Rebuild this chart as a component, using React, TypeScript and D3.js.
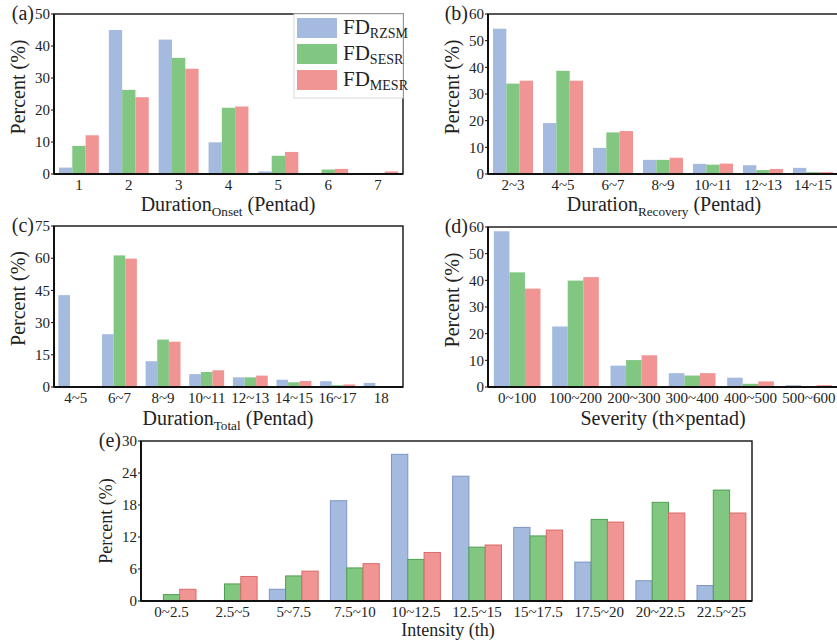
import React from 'react';
import * as d3 from 'd3';

const seriesNames = ['RZSM', 'SESR', 'MESR'];
const fillColors = ['#a5badf', '#81c782', '#f19594'];
const edgeColors = ['#7d96c4', '#4f9f53', '#d96b6b'];

const onsetCats = ['1', '2', '3', '4', '5', '6', '7'];
const onsetRZSM = [2.0, 45.0, 42.0, 9.9, 0.8, 0, 0.2];
const onsetSESR = [8.8, 26.3, 36.3, 20.7, 5.7, 1.4, 0.3];
const onsetMESR = [12.1, 24.0, 32.9, 21.1, 6.9, 1.6, 0.8];

const recoveryCats = ['2~3', '4~5', '6~7', '8~9', '10~11', '12~13', '14~15'];
const recoveryRZSM = [54.5, 19.1, 9.8, 5.3, 3.8, 3.3, 2.3];
const recoverySESR = [33.9, 38.7, 15.6, 5.3, 3.5, 1.5, 0.7];
const recoveryMESR = [35.0, 35.0, 16.1, 6.1, 3.9, 1.9, 0.7];

const totalCats = ['4~5', '6~7', '8~9', '10~11', '12~13', '14~15', '16~17', '18'];
const totalRZSM = [42.8, 24.6, 12.0, 6.0, 4.5, 3.4, 2.7, 1.9];
const totalSESR = [0, 61.3, 22.1, 7.0, 4.5, 2.2, 0.8, 0.3];
const totalMESR = [0, 59.8, 21.1, 7.8, 5.3, 2.8, 1.2, 0.3];

const severityCats = ['0~100', '100~200', '200~300', '300~400', '400~500', '500~600'];
const severityRZSM = [58.4, 22.7, 8.0, 5.2, 3.5, 0.7];
const severitySESR = [43.0, 39.9, 10.1, 4.3, 1.2, 0];
const severityMESR = [36.9, 41.2, 11.9, 5.2, 2.1, 0.7];

const intensityCats = ['0~2.5', '2.5~5', '5~7.5', '7.5~10', '10~12.5', '12.5~15', '15~17.5', '17.5~20', '20~22.5', '22.5~25'];
const intensityRZSM = [0, 0, 2.2, 18.8, 27.5, 23.4, 13.8, 7.3, 3.8, 2.9];
const intensitySESR = [1.2, 3.2, 4.7, 6.2, 7.8, 10.1, 12.2, 15.3, 18.5, 20.8];
const intensityMESR = [2.2, 4.6, 5.6, 7.0, 9.1, 10.5, 13.3, 14.8, 16.5, 16.5];

const FONT = "'Liberation Serif', 'DejaVu Serif', serif";
const TXT = '#222';

type PanelProps = {
    x: number; y: number; w: number; h: number;
    cats: string[];
    series: number[][];
    yMax: number; yStep: number;
    tag: string;
    xTitle: React.ReactNode; xTitleX: number; xTitleY: number;
    yTitleShift?: number;
    titleSize?: number;
    tickGap?: number;
    outline?: boolean;
};

const Panel = ({ x, y, w, h, cats, series, yMax, yStep, tag, xTitle, xTitleX, xTitleY, yTitleShift = 0, titleSize = 20, tickGap = 16, outline = false }: PanelProps) => {
    const getX = d3.scaleBand().domain(cats).range([0, w]).paddingInner(0.2).paddingOuter(0.1);
    const getSub = d3.scaleBand().domain(seriesNames).range([0, getX.bandwidth()]);
    const getY = d3.scaleLinear().domain([0, yMax]).range([h, 0]);
    const yTicks = d3.range(0, yMax + 0.001, yStep);

    return (
        <g transform={`translate(${x},${y})`}>
            {series.map((vals, si) => (
                <g key={si}>
                    {vals.map((v, i) => (
                        v > 0 ? <rect key={i}
                            x={getX(cats[i])! + getSub(seriesNames[si])!}
                            y={getY(v)}
                            width={getSub.bandwidth()}
                            height={h - getY(v)}
                            fill={fillColors[si]}
                            stroke={outline ? edgeColors[si] : 'none'}
                            strokeWidth={outline ? 1 : 0} /> : null
                    ))}
                </g>
            ))}
            <rect x={0} y={0} width={w} height={h} fill="none" stroke="#111" strokeWidth={1.4} />
            <line x1={0} x2={0} y1={0} y2={h} stroke="#111" strokeWidth={2} />
            <line x1={0} x2={w} y1={h} y2={h} stroke="#111" strokeWidth={2} />
            {yTicks.map((t) => (
                <g key={t}>
                    <line x1={-3} x2={0} y1={getY(t)} y2={getY(t)} stroke="#111" strokeWidth={1} />
                    <text x={-4} y={getY(t)} dy="0.35em" textAnchor="end" fontSize={15} fill={TXT}>{t}</text>
                </g>
            ))}
            {cats.map((c) => (
                <text key={c} x={getX(c)! + getX.bandwidth() / 2} y={h + tickGap} textAnchor="middle" fontSize={15} fill={TXT}>{c}</text>
            ))}
            <text
                transform={`translate(${-29},${h / 2 + yTitleShift}) rotate(-90)`}
                textAnchor="middle" fontSize={titleSize} fill={TXT}>Percent (%)</text>
            <text x={xTitleX - x} y={xTitleY - y} textAnchor="middle" fontSize={titleSize} fill={TXT}>{xTitle}</text>
            <text x={-20} y={6} textAnchor="end" fontSize={20} fill={TXT}>{tag}</text>
        </g>
    );
};

const sub = (main: string, s: string, rest: string, size: number) => (
    <>
        {main}
        <tspan fontSize={size * 0.66} dy={5}>{s}</tspan>
        <tspan dy={-5}>{rest}</tspan>
    </>
);

const Legend = () => {
    const rows = [0, 1, 2];
    return (
        <g>
            <rect x={294} y={14} width={109} height={84} fill="#fff" stroke="#d8d8d8" strokeWidth={1} />
            {rows.map((i) => (
                <g key={i} transform={`translate(297,${18 + i * 26})`}>
                    <rect x={0} y={0} width={40} height={20} fill={fillColors[i]} />
                    <text x={46} y={16} fontSize={21} fill={TXT}>
                        FD<tspan fontSize={14} dy={4}>{seriesNames[i]}</tspan>
                    </text>
                </g>
            ))}
        </g>
    );
};

export default function App() {
    return (
        <svg width={837} height={644} viewBox="0 0 837 644"
            style={{ position: 'absolute', left: 0, top: 0, background: '#fff', fontFamily: FONT }}>
            <rect x={0} y={0} width={837} height={644} fill="#fff" />
            <Panel x={54} y={14} w={349} h={160} cats={onsetCats}
                series={[onsetRZSM, onsetSESR, onsetMESR]} yMax={50} yStep={10} tag="(a)"
                xTitle={sub('Duration', 'Onset', ' (Pentad)', 20)} xTitleX={228} xTitleY={211} yTitleShift={-7} />
            <Legend />
            <Panel x={488} y={14} w={350} h={160} cats={recoveryCats}
                series={[recoveryRZSM, recoverySESR, recoveryMESR]} yMax={60} yStep={10} tag="(b)"
                xTitle={sub('Duration', 'Recovery', ' (Pentad)', 20)} xTitleX={664} xTitleY={211} yTitleShift={-7} />
            <Panel x={54} y={226} w={349} h={161} cats={totalCats}
                series={[totalRZSM, totalSESR, totalMESR]} yMax={75} yStep={15} tag="(c)"
                xTitle={sub('Duration', 'Total', ' (Pentad)', 20)} xTitleX={228} xTitleY={425} yTitleShift={-8} />
            <Panel x={488} y={227} w={350} h={160} cats={severityCats}
                series={[severityRZSM, severitySESR, severityMESR]} yMax={60} yStep={10} tag="(d)"
                xTitle={'Severity (th×pentad)'} xTitleX={663} xTitleY={425} yTitleShift={-7} />
            <Panel x={141} y={441} w={611} h={160} cats={intensityCats}
                series={[intensityRZSM, intensitySESR, intensityMESR]} yMax={30} yStep={6} tag="(e)"
                xTitle={'Intensity (th)'} xTitleX={448} xTitleY={636} titleSize={18} outline />
        </svg>
    );
}
